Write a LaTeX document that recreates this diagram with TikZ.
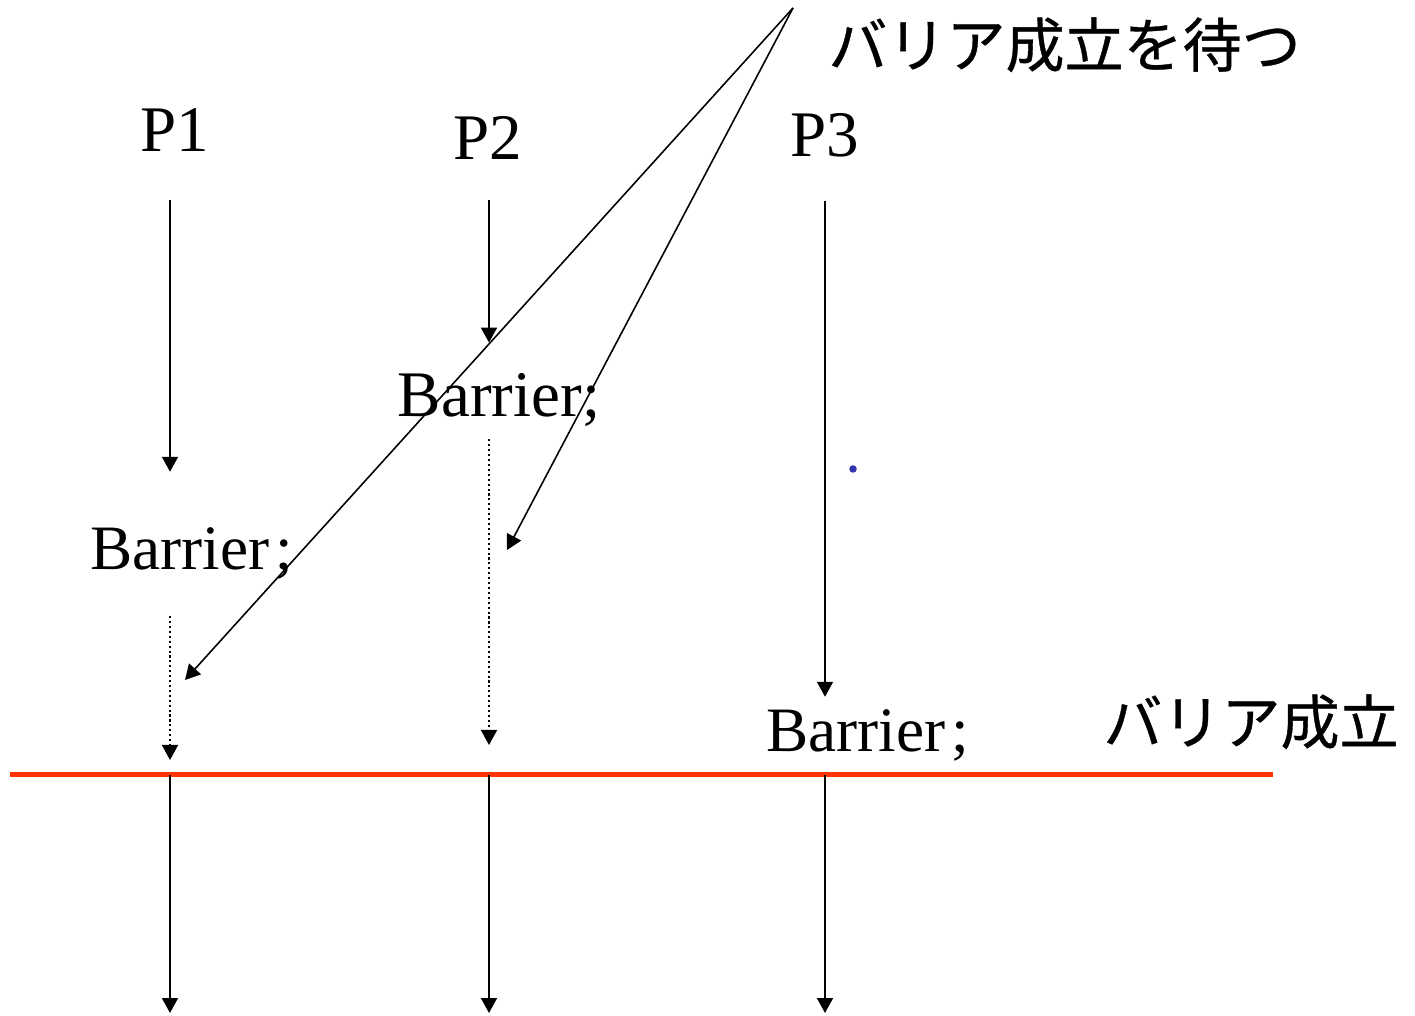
\documentclass[tikz,border=0pt]{standalone}
\usepackage{fontspec}
\setmainfont{Liberation Serif}
\newfontfamily\jp[FakeBold=0.6]{Noto Sans CJK JP}
\usetikzlibrary{arrows.meta}
\definecolor{barred}{HTML}{FF3300}
\definecolor{dotblue}{HTML}{3333AA}
\tikzset{
  flow/.style={line width=1.1pt,-{Triangle[length=0.3cm,width=0.32cm]}},
  waiting/.style={line width=1pt,dash pattern=on 1.2pt off 1.6pt,-{Triangle[length=0.3cm,width=0.32cm]}},
  proc/.style={inner sep=0pt,anchor=base,font=\fontsize{37}{44}\selectfont},
  note/.style={inner sep=0pt,anchor=base west,font=\jp\fontsize{33.6}{40}\selectfont}
}
\begin{document}
\begin{tikzpicture}
\useasboundingbox (0,0) rectangle (28.3,20.3);

% lanes (bottom ends)
\coordinate (l1) at (3.4,0.04);
\coordinate (l2) at (9.78,0.04);
\coordinate (l3) at (16.5,0.04);

\node[proc] (p1) at (3.5,17.26) {P1};
\node[proc] (p2) at (9.76,17.1) {P2};
\node[proc] (p3) at (16.5,17.16) {P3};

\node[proc,font=\fontsize{36}{44}\selectfont] (b1) at (3.84,8.9) {Barrier\kern0.1em;};
\node[proc] (b2) at (9.98,11.96) {Barrier;};
\node[proc,font=\fontsize{36}{44}\selectfont] (b3) at (17.36,5.26) {Barrier\kern0.1em;};

\node[note] (wait) at (16.56,18.96) {バリア成立を待つ};
\node[note] (done) at (22.06,5.42) {バリア成立};

% barrier line
\coordinate (bl) at (0.2,4.8);
\coordinate (br) at (25.46,4.8);
\draw[barred,line width=0.1cm] (bl) -- (br);

% before the barrier
\draw[flow,shorten <=0.96cm,shorten >=1.12cm] (p1.south -| l1) -- (b1.north -| l1);
\draw[flow,shorten <=0.8cm,shorten >=0.62cm] (p2.south -| l2) -- (b2.north -| l2);
\draw[flow,shorten <=0.86cm,shorten >=0.26cm] (p3.south -| l3) -- (b3.north -| l3);

\draw[waiting,shorten <=0.72cm,shorten >=0.3cm] (b1.south -| l1) -- (bl -| l1);
\draw[waiting,shorten <=0.24cm,shorten >=0.6cm] (b2.south -| l2) -- (bl -| l2);

% after the barrier
\foreach \n in {1,2,3}
  \draw[flow] (bl -| l\n) -- (l\n);

% pointers to the waiting parts
\coordinate (w) at (15.86,20.14);
\coordinate (t1) at (3.7,6.7);
\coordinate (t2) at (10.14,9.3);
\draw[flow,line width=0.9pt] (w) -- (t1);
\draw[flow,line width=0.9pt] (w) -- (t2);

\fill[dotblue] (17.06,10.92) circle (0.075);
\end{tikzpicture}
\end{document}
